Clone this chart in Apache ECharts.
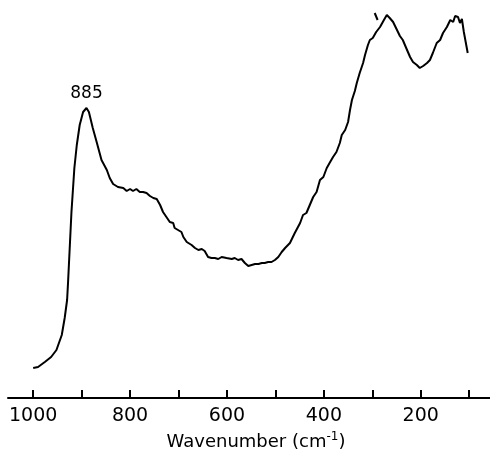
<!DOCTYPE html>
<html><head><meta charset="utf-8">
<script src="https://cdn.jsdelivr.net/npm/echarts@6/dist/echarts.min.js"></script>
<style>html,body{margin:0;padding:0;background:#fff}#c{width:490px;height:452px}</style>
</head><body><div id="c"></div>
<script>
// Wavenumber (cm^-1) and relative intensity (arbitrary units)
const wavenumber = [1000,990,976,963,952,941,935,930,928,924,921,918,915,910,904,897,890,885,877,869,
  859,848,842,835,825,814,807,800,794,787,780,773,766,759,752,745,738,732,725,718,711,708,701,694,690,683,673,666,659,652,646,
  639,632,625,618,611,601,590,584,577,570,563,556,549,542,535,528,522,515,508,501,494,487,480,470,460,449,443,436,429,422,415,408,401,394,387,381,374,370,367,363,356,350,
  346,342,336,332,326,319,315,309,305,299,292,284,276,270,264,257,249,243,237,230,222,216,208,202,195,187,181,175,167,160,154,146,139,133,129,123,119,115,111,107,103];
const intensity = [30,31,36,41,48,63,80,98,116,156,186,208,230,253,273,286,290,286,270,256,
  238,228,220,214,211,210,207,209,207,209,206,206,205,202,200,199,193,186,181,176,175,170,168,166,161,156,153,150,148,149,147,
  141,140,140,139,141,140,139,140,138,139,135,132,133,134,134,135,135,136,136,138,141,146,150,155,165,175,183,185,193,201,206,218,221,230,236,241,246,248,255,263,268,276,
  288,298,307,315,325,335,343,353,358,360,366,371,378,383,380,376,368,362,358,350,341,336,333,330,332,335,338,345,355,358,365,371,378,376,382,381,375,379,366,365,345];
const dashW = [295,289];
const dashI = [385,378];
const tickValues = [1000,900,800,700,600,500,400,300,200,100];
const tickLabels = [1000,800,600,400,200];
const peakLabel = '885';
const peakW = 890, peakI = 290;

const chart = echarts.init(document.getElementById('c'), null, {renderer:'canvas'});
chart.setOption({
  animation:false,
  backgroundColor:'#fff',
  grid:{left:8, right:0, top:0, bottom:54, containLabel:false, outerBoundsMode:'none'},
  xAxis:{
    type:'value', inverse:true, min:57, max:1052,
    axisLine:{show:true, lineStyle:{color:'#000', width:2}},
    axisTick:{show:true, inside:false, length:-8, lineStyle:{color:'#000', width:2}, customValues:tickValues},
    axisLabel:{show:true, color:'#000', fontFamily:'DejaVu Sans', fontSize:19, margin:9, customValues:tickLabels,
      formatter:function(v){return String(v);}},
    splitLine:{show:false},
    name:'Wavenumber (cm{sup|-1})',
    nameLocation:'middle', nameGap:33,
    nameTextStyle:{color:'#000', fontFamily:'DejaVu Sans', fontSize:18, padding:[0,0,0,14],
      rich:{sup:{fontSize:12, verticalAlign:'bottom', padding:[0,0,10,0], fontFamily:'DejaVu Sans', color:'#000'}}}
  },
  yAxis:{type:'value', min:0, max:398, show:false},
  series:[
    {type:'line', data:wavenumber.map((w,i)=>[w,intensity[i]]), symbol:'none',
     lineStyle:{color:'#000', width:2},
     markPoint:{symbol:'circle', symbolSize:0, data:[{coord:[peakW,peakI], value:peakLabel}],
       label:{show:true, position:'top', distance:6, formatter:peakLabel, color:'#000', fontFamily:'DejaVu Sans', fontSize:17}}},
    {type:'line', data:dashW.map((w,i)=>[w,dashI[i]]), symbol:'none', lineStyle:{color:'#000', width:2}}
  ]
});
</script></body></html>
